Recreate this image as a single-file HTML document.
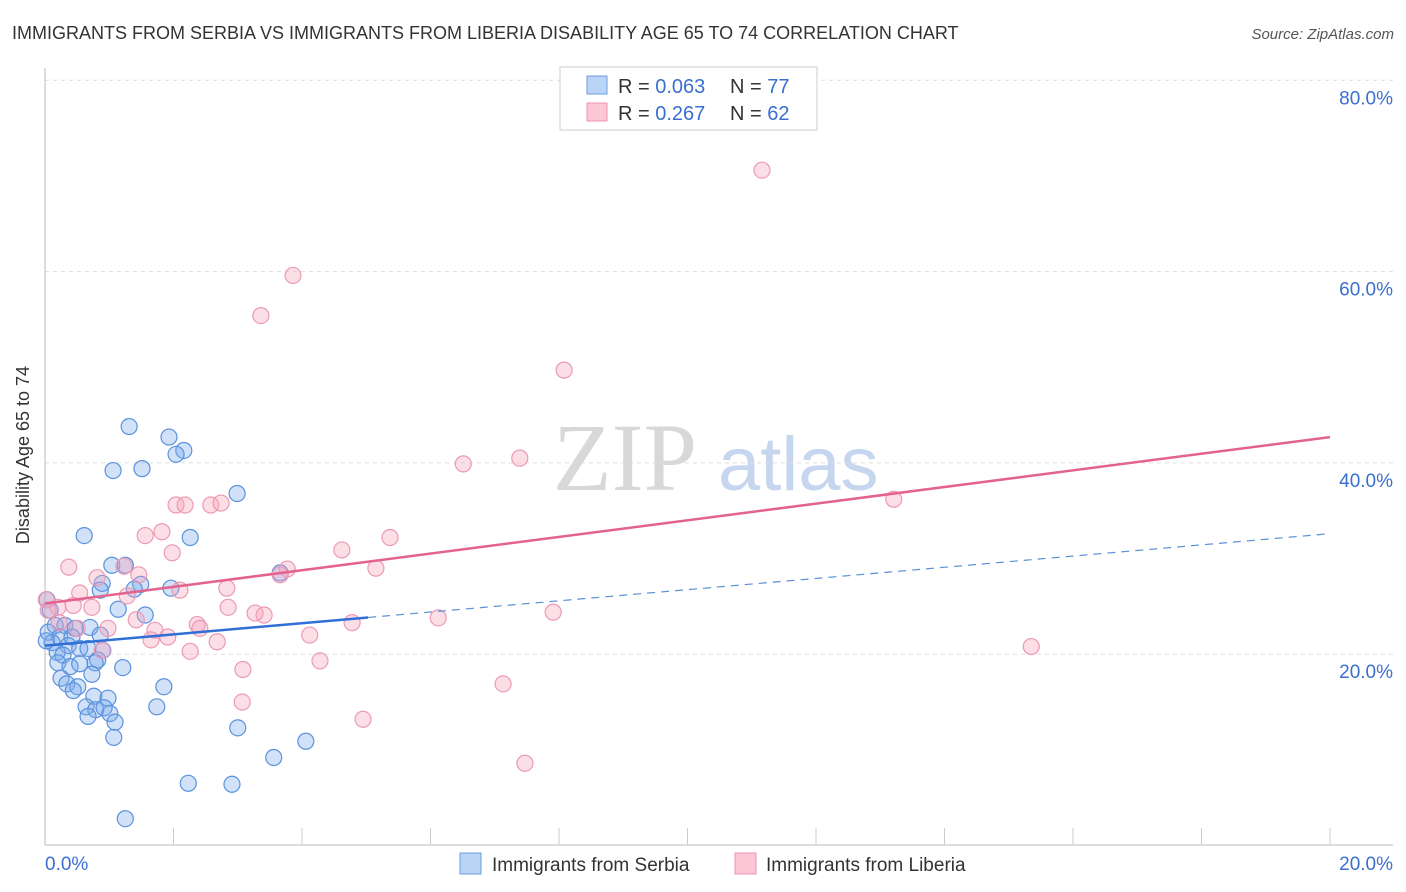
<!DOCTYPE html>
<html><head><meta charset="utf-8"><style>
body{margin:0;background:#fff;font-family:"Liberation Sans",sans-serif;}
svg{display:block}
</style></head><body>
<svg id="chart" width="1406" height="892" xmlns="http://www.w3.org/2000/svg">
<text x="12" y="39" font-size="18" fill="#333">IMMIGRANTS FROM SERBIA VS IMMIGRANTS FROM LIBERIA DISABILITY AGE 65 TO 74 CORRELATION CHART</text>
<text x="1394" y="39" font-size="15" fill="#555" font-style="italic" text-anchor="end">Source: ZipAtlas.com</text>
<g>
<text x="553" y="490" font-size="96" font-family="Liberation Serif,serif" fill="#d8d8d8">ZIP</text>
<text x="718" y="490" font-size="76" fill="#c5d6ee">atlas</text>
</g>
<g id="grid"></g>
<g id="axes"></g>
<g id="pts"></g>
<g id="lines"></g>
<text x="29" y="455" font-size="18" fill="#333" text-anchor="middle" transform="rotate(-90 29 455)">Disability Age 65 to 74</text>
<g>
<rect x="560" y="67" width="257" height="63" fill="#fff" stroke="#ccc"/>
<rect x="587" y="76" width="20" height="18" fill="#b9d4f5" stroke="#6b9ee0"/>
<rect x="587" y="103" width="20" height="18" fill="#fcc6d6" stroke="#eb93ad"/>
<text x="618" y="93" font-size="20" fill="#333">R = <tspan fill="#3a6fd0">0.063</tspan></text>
<text x="730" y="93" font-size="20" fill="#333">N = <tspan fill="#3a6fd0">77</tspan></text>
<text x="618" y="120" font-size="20" fill="#333">R = <tspan fill="#3a6fd0">0.267</tspan></text>
<text x="730" y="120" font-size="20" fill="#333">N = <tspan fill="#3a6fd0">62</tspan></text>
</g>
<g>
<rect x="460" y="853" width="21" height="21" fill="#b9d4f5" stroke="#6b9ee0"/>
<text x="492" y="871" font-size="19" fill="#333">Immigrants from Serbia</text>
<rect x="735" y="853" width="21" height="21" fill="#fcc6d6" stroke="#eb93ad"/>
<text x="766" y="871" font-size="19" fill="#333">Immigrants from Liberia</text>
</g>
</svg>
<script>
const xTicks=[0,20];
const xTickLabels=["0.0%","20.0%"];
const yTicks=[20,40,60,80];
const yTickLabels=["20.0%","40.0%","60.0%","80.0%"];
const serbiaX=[1.31,1.93,2.16,2.04,1.06,1.51,2.99,0.61,2.26,1.04,1.25,3.66,0.89,1.49,1.96,0.86,1.39,1.14,1.56,0.08,0.16,0.31,0.47,0.70,0.05,0.23,0.42,0.86,0.11,0.36,0.54,0.67,0.90,0.19,0.28,0.82,0.78,0.20,0.39,1.21,0.54,0.25,0.73,0.34,0.51,1.85,0.44,0.76,0.98,1.74,0.64,0.79,0.92,1.01,0.67,1.09,3.00,1.07,4.06,3.56,2.23,2.91,1.25,0.02,0.03];
const serbiaY=[43.8,42.7,41.3,40.9,39.2,39.4,36.8,32.4,32.2,29.3,29.3,28.5,27.4,27.3,26.9,26.7,26.8,24.7,24.1,24.6,23.0,23.0,22.7,22.8,22.3,21.8,21.8,22.0,21.2,20.9,20.6,20.6,20.4,20.2,19.9,19.4,19.1,19.1,18.7,18.6,19.0,17.5,17.9,16.9,16.6,16.6,16.2,15.6,15.4,14.5,14.5,14.2,14.4,13.8,13.5,12.9,12.3,11.3,10.9,9.2,6.5,6.4,2.8,21.4,25.7];
const liberiaX=[11.16,3.86,3.36,8.08,6.51,7.39,13.21,2.04,2.18,2.58,2.74,1.82,1.56,5.37,4.62,1.98,0.37,1.23,5.15,3.77,3.66,1.46,0.81,2.83,2.10,0.54,1.28,0.02,0.20,0.44,0.73,2.85,3.27,3.41,7.91,1.42,0.22,6.12,4.78,2.37,0.98,0.50,1.71,2.41,1.91,4.12,1.65,2.68,0.89,2.26,15.35,4.28,3.08,7.13,3.07,4.95,7.47,0.05];
const liberiaY=[70.6,59.6,55.4,49.7,39.9,40.5,36.2,35.6,35.6,35.6,35.8,32.8,32.4,32.2,30.9,30.6,29.1,29.2,29.0,28.9,28.3,28.3,28.0,26.9,26.7,26.4,26.1,25.7,24.9,25.1,24.9,24.9,24.3,24.1,24.4,23.6,23.3,23.8,23.3,23.1,22.7,22.7,22.5,22.7,21.8,22.0,21.5,21.3,20.4,20.3,20.8,19.3,18.4,16.9,15.0,13.2,8.6,24.6];
const serbiaFit=[20.9,0.585];
const liberiaFit=[25.3,0.87];
const NS="http://www.w3.org/2000/svg";
const X0=45,X1=1330,Y0=845.5,YS=191.3/20;
function sx(v){return X0+(v/20)*(X1-X0);}
function sy(v){return Y0-v*YS;}
function mk(tag,attrs,parent){const e=document.createElementNS(NS,tag);for(const k in attrs)e.setAttribute(k,attrs[k]);parent.appendChild(e);return e;}
const grid=document.getElementById('grid'),axes=document.getElementById('axes'),pts=document.getElementById('pts'),lines=document.getElementById('lines'),svg=document.getElementById('chart');
yTicks.forEach((t,i)=>{
 const l=mk('line',{x1:X0,x2:1393,y1:sy(t),y2:sy(t),stroke:'#ddd','stroke-dasharray':'4,4'},grid);
 
 
 const tx=mk('text',{x:1393,y:sy(t)+24,'font-size':19,fill:'#3a6fd0','text-anchor':'end'},axes);
 tx.textContent=yTickLabels[i];
 
 
});
const ya=mk('line',{x1:X0,x2:X0,y1:68,y2:845,stroke:'#bbb'},axes);


const xa=mk('line',{x1:X0,x2:1393,y1:845,y2:845,stroke:'#bbb'},axes);


for(let i=1;i<=10;i++){
 const xx=sx(i*2);
 const tk=mk('line',{x1:xx,x2:xx,y1:828,y2:845,stroke:'#ccc'},axes);
 
 
}
xTicks.forEach((t,i)=>{
 const tx=mk('text',{x:sx(t)+(i==0?0:63),y:870,'font-size':19,fill:'#3a6fd0','text-anchor':i==0?'start':'end'},axes);
 tx.textContent=xTickLabels[i];
 
 
});
serbiaX.forEach((v,i)=>{
 const c=mk('circle',{cx:sx(v),cy:sy(serbiaY[i]),r:8,fill:'rgba(120,170,235,0.35)',stroke:'#5b92dd','stroke-width':1.2},pts);
 
 
});
liberiaX.forEach((v,i)=>{
 const c=mk('circle',{cx:sx(v),cy:sy(liberiaY[i]),r:8,fill:'rgba(245,160,185,0.35)',stroke:'#ec9ab3','stroke-width':1.2},pts);
 
 
});
const sEnd=5.03;
const l1=mk('line',{x1:sx(0),y1:sy(serbiaFit[0]),x2:sx(sEnd),y2:sy(serbiaFit[0]+serbiaFit[1]*sEnd),stroke:'#2f6fd6','stroke-width':2.5},lines);


const l2=mk('line',{x1:sx(sEnd),y1:sy(serbiaFit[0]+serbiaFit[1]*sEnd),x2:sx(20),y2:sy(serbiaFit[0]+serbiaFit[1]*20),stroke:'#5b8fd8','stroke-width':1.2,'stroke-dasharray':'8,6'},lines);


const l3=mk('line',{x1:sx(0),y1:sy(liberiaFit[0]),x2:sx(20),y2:sy(liberiaFit[0]+liberiaFit[1]*20),stroke:'#e4628e','stroke-width':2.5},lines);


</script>
</body></html>
